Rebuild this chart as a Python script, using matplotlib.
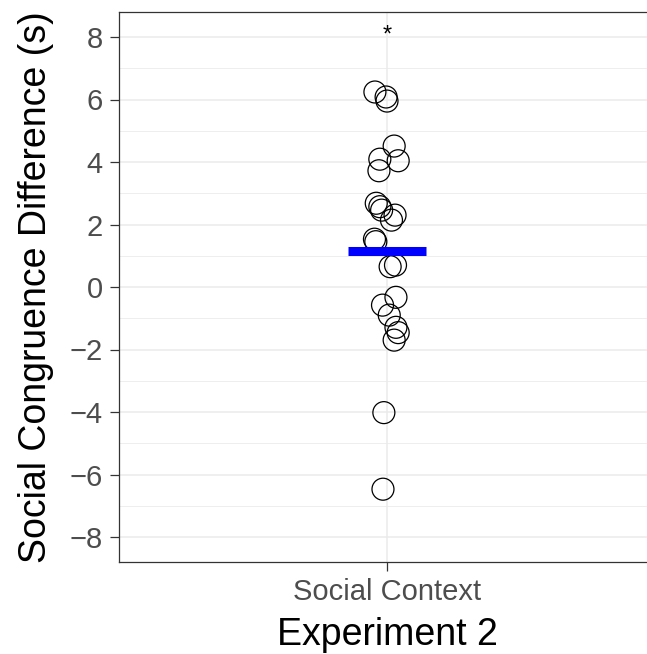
import numpy as np
import matplotlib
matplotlib.use("Agg")
import matplotlib.pyplot as plt

plt.rcParams['font.family'] = ['Liberation Sans', 'DejaVu Sans']

# jittered x offsets (in category units) and y values
y_values = [6.24, 6.08, 5.95,
            4.51, 4.04, 4.09, 3.72,
            2.68, 2.57, 2.46, 2.30, 2.14,
            1.53, 1.45,
            0.65, 0.70,
            -0.33, -0.58, -0.90, -1.29, -1.46, -1.70,
            -4.02, -6.47]
x_jitter = [-0.027, -0.002, 0.000,
            0.016, 0.025, -0.016, -0.018,
            -0.024, -0.016, -0.012, 0.018, 0.010,
            -0.028, -0.025,
            0.007, 0.019,
            0.020, -0.010, 0.005, 0.020, 0.025, 0.016,
            -0.007, -0.009]
mean_value = 1.15
category = 'Social Context'
y_ticks = [-8, -6, -4, -2, 0, 2, 4, 6, 8]

fig = plt.figure(figsize=(6.47, 6.54), dpi=100)
# the panel runs past the right edge of the picture, as in the original
ax = fig.add_axes([118.5/647, 1 - 562/654, 537/647, 550/654])

xs = [1 + j for j in x_jitter]
ax.scatter(xs, y_values, s=250, facecolors='none', edgecolors='black', linewidths=0.9, zorder=3)
ax.hlines(mean_value, 0.912, 1.088, color='#0000FF', linewidth=6.5, zorder=4)
ax.text(1.0, 7.85, '*', ha='center', va='baseline', fontsize=17, color='black')

ax.set_xlim(0.4, 1.6)
ax.set_ylim(-8.8, 8.8)
ax.set_xticks([1])
ax.set_xticklabels([category])
ax.set_yticks(y_ticks)
ax.set_yticklabels([str(t).replace('-', '\u2212') for t in y_ticks])
ax.set_yticks(np.arange(-7, 8, 2), minor=True)

ax.grid(True, which='major', color='#EBEBEB', linewidth=1.1, zorder=0)
ax.grid(True, which='minor', axis='y', color='#EBEBEB', linewidth=0.6, zorder=0)
ax.set_axisbelow(True)

for s in ax.spines.values():
    s.set_color('#333333')
    s.set_linewidth(0.9)

ax.tick_params(which='major', length=6.5, width=0.9, color='#333333',
               labelsize=21, labelcolor='#4D4D4D', pad=5)
ax.tick_params(which='minor', length=0)

ax.set_ylabel('Social Congruence Difference (s)', fontsize=27, labelpad=11)
ax.set_xlabel('Experiment 2', fontsize=27, labelpad=8)

fig.savefig('out.png', dpi=100)
